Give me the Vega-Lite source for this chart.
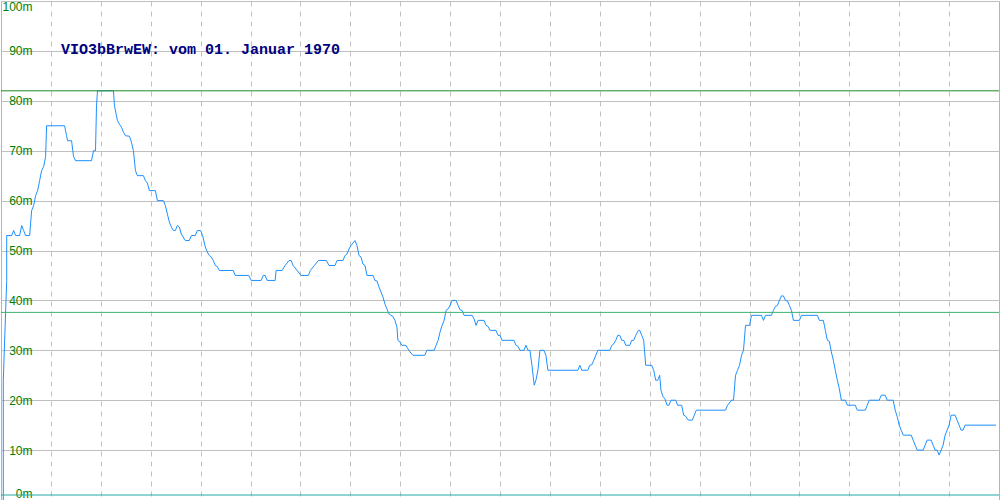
{
  "$schema": "https://vega.github.io/schema/vega-lite/v6.json",
  "width": 1000,
  "height": 500,
  "padding": 0,
  "autosize": {"type": "fit", "contains": "padding"},
  "background": "white",
  "config": {"view": {"stroke": "#b4b4b4", "strokeWidth": 1}},
  "datasets": {
    "series": [
      {"t":0.046,"v":0},{"t":0.046,"v":24},{"t":0.114,"v":44},{"t":0.114,"v":53},{"t":0.214,"v":53},{"t":0.254,"v":54},{"t":0.294,"v":53},{"t":0.374,"v":53},{"t":0.414,"v":55},{"t":0.454,"v":54},{"t":0.494,"v":53},{"t":0.574,"v":53},{"t":0.614,"v":58},{"t":0.654,"v":59},{"t":0.694,"v":61},{"t":0.734,"v":62},{"t":0.774,"v":64},{"t":0.814,"v":66},{"t":0.854,"v":66.8},{"t":0.894,"v":68.8},{"t":0.914,"v":75},{"t":1.274,"v":75},{"t":1.314,"v":73},{"t":1.334,"v":72},{"t":1.414,"v":72},{"t":1.454,"v":68.8},{"t":1.494,"v":68},{"t":1.814,"v":68},{"t":1.854,"v":70},{"t":1.894,"v":70},{"t":1.914,"v":79},{"t":1.934,"v":82},{"t":2.254,"v":82},{"t":2.274,"v":79},{"t":2.314,"v":77},{"t":2.334,"v":76},{"t":2.374,"v":75.3},{"t":2.414,"v":74.7},{"t":2.454,"v":73.7},{"t":2.494,"v":73},{"t":2.574,"v":72.9},{"t":2.614,"v":71.7},{"t":2.654,"v":70},{"t":2.694,"v":66},{"t":2.734,"v":65},{"t":2.854,"v":65},{"t":2.894,"v":64},{"t":2.934,"v":63.5},{"t":2.974,"v":62},{"t":3.094,"v":62},{"t":3.134,"v":60},{"t":3.254,"v":60},{"t":3.294,"v":59},{"t":3.334,"v":57.3},{"t":3.374,"v":55.7},{"t":3.414,"v":54.7},{"t":3.454,"v":54},{"t":3.494,"v":54},{"t":3.534,"v":55},{"t":3.574,"v":54.7},{"t":3.614,"v":53.3},{"t":3.694,"v":52},{"t":3.774,"v":52},{"t":3.814,"v":53},{"t":3.894,"v":53},{"t":3.934,"v":54},{"t":4.0,"v":54},{"t":4.04,"v":53},{"t":4.094,"v":50.7},{"t":4.134,"v":49.7},{"t":4.174,"v":49},{"t":4.214,"v":48.7},{"t":4.254,"v":48},{"t":4.294,"v":47},{"t":4.334,"v":46.8},{"t":4.374,"v":46},{"t":4.654,"v":46},{"t":4.694,"v":45},{"t":4.966,"v":45},{"t":5.014,"v":44},{"t":5.214,"v":44},{"t":5.254,"v":45},{"t":5.294,"v":45},{"t":5.334,"v":44},{"t":5.494,"v":44},{"t":5.514,"v":46},{"t":5.634,"v":46},{"t":5.694,"v":47},{"t":5.774,"v":48},{"t":5.814,"v":48},{"t":5.854,"v":47},{"t":5.934,"v":46},{"t":6.014,"v":45},{"t":6.16,"v":45},{"t":6.2,"v":46},{"t":6.28,"v":47},{"t":6.36,"v":48},{"t":6.52,"v":48},{"t":6.574,"v":47},{"t":6.694,"v":47},{"t":6.734,"v":48},{"t":6.854,"v":48},{"t":6.894,"v":49},{"t":6.934,"v":49.3},{"t":6.974,"v":50.3},{"t":7.014,"v":51},{"t":7.094,"v":52},{"t":7.134,"v":51},{"t":7.174,"v":49},{"t":7.214,"v":48.7},{"t":7.254,"v":47.3},{"t":7.294,"v":47},{"t":7.334,"v":45},{"t":7.454,"v":45},{"t":7.494,"v":44},{"t":7.534,"v":43.9},{"t":7.574,"v":42.7},{"t":7.614,"v":41.7},{"t":7.654,"v":40.7},{"t":7.694,"v":39.3},{"t":7.734,"v":38.3},{"t":7.774,"v":37.3},{"t":7.814,"v":37},{"t":7.854,"v":36.8},{"t":7.894,"v":36},{"t":7.934,"v":34.7},{"t":7.954,"v":32},{"t":7.994,"v":31.7},{"t":8.034,"v":31},{"t":8.114,"v":31},{"t":8.154,"v":30.3},{"t":8.194,"v":29.7},{"t":8.254,"v":29},{"t":8.494,"v":29},{"t":8.534,"v":30},{"t":8.68,"v":30},{"t":8.72,"v":31},{"t":8.76,"v":32},{"t":8.8,"v":33.7},{"t":8.84,"v":35},{"t":8.88,"v":36},{"t":8.92,"v":38},{"t":8.96,"v":38.3},{"t":9.0,"v":39},{"t":9.04,"v":40},{"t":9.12,"v":40},{"t":9.16,"v":39},{"t":9.2,"v":38.1},{"t":9.24,"v":38},{"t":9.28,"v":37},{"t":9.44,"v":37},{"t":9.48,"v":36.3},{"t":9.52,"v":35},{"t":9.56,"v":36},{"t":9.68,"v":36},{"t":9.72,"v":35},{"t":9.76,"v":34.8},{"t":9.8,"v":34},{"t":9.92,"v":34},{"t":9.96,"v":33},{"t":10.0,"v":33},{"t":10.04,"v":32},{"t":10.28,"v":32},{"t":10.32,"v":31},{"t":10.36,"v":30.8},{"t":10.4,"v":30},{"t":10.48,"v":30},{"t":10.52,"v":31},{"t":10.56,"v":30},{"t":10.6,"v":30},{"t":10.64,"v":27},{"t":10.666,"v":24.7},{"t":10.686,"v":23},{"t":10.72,"v":24},{"t":10.76,"v":26},{"t":10.8,"v":30},{"t":10.88,"v":30},{"t":10.92,"v":29},{"t":10.96,"v":26},{"t":11.56,"v":26},{"t":11.6,"v":27},{"t":11.64,"v":26},{"t":11.76,"v":26},{"t":11.8,"v":27},{"t":11.84,"v":27.1},{"t":11.88,"v":28},{"t":11.92,"v":29},{"t":11.96,"v":30},{"t":12.2,"v":30},{"t":12.24,"v":31},{"t":12.28,"v":31.3},{"t":12.32,"v":32},{"t":12.36,"v":33},{"t":12.4,"v":33},{"t":12.44,"v":32},{"t":12.48,"v":32},{"t":12.52,"v":31},{"t":12.6,"v":31},{"t":12.64,"v":32},{"t":12.68,"v":32},{"t":12.72,"v":33},{"t":12.774,"v":34},{"t":12.8,"v":34},{"t":12.84,"v":33},{"t":12.88,"v":32},{"t":12.92,"v":27},{"t":13.04,"v":27},{"t":13.08,"v":26},{"t":13.12,"v":24},{"t":13.16,"v":24},{"t":13.2,"v":25},{"t":13.226,"v":22},{"t":13.266,"v":20.7},{"t":13.306,"v":20.3},{"t":13.346,"v":19},{"t":13.386,"v":19},{"t":13.426,"v":20},{"t":13.52,"v":20},{"t":13.56,"v":19},{"t":13.64,"v":19},{"t":13.68,"v":17},{"t":13.72,"v":16.8},{"t":13.774,"v":16},{"t":13.854,"v":16},{"t":13.894,"v":17},{"t":13.934,"v":18},{"t":14.52,"v":18},{"t":14.56,"v":19},{"t":14.64,"v":20},{"t":14.68,"v":20},{"t":14.72,"v":25},{"t":14.76,"v":26},{"t":14.8,"v":27},{"t":14.84,"v":29},{"t":14.88,"v":30},{"t":14.92,"v":35},{"t":15.0,"v":35},{"t":15.04,"v":37},{"t":15.24,"v":37},{"t":15.28,"v":36},{"t":15.32,"v":37},{"t":15.44,"v":37},{"t":15.48,"v":38},{"t":15.52,"v":38.8},{"t":15.56,"v":39},{"t":15.6,"v":40},{"t":15.64,"v":40.9},{"t":15.68,"v":40.9},{"t":15.72,"v":40},{"t":15.76,"v":39.9},{"t":15.8,"v":39},{"t":15.84,"v":38},{"t":15.88,"v":36},{"t":16.0,"v":36},{"t":16.04,"v":37},{"t":16.36,"v":37},{"t":16.4,"v":36},{"t":16.48,"v":36},{"t":16.52,"v":34},{"t":16.56,"v":32},{"t":16.6,"v":31.8},{"t":16.64,"v":29.7},{"t":16.68,"v":28},{"t":16.72,"v":26},{"t":16.76,"v":24},{"t":16.8,"v":22.3},{"t":16.84,"v":20},{"t":16.92,"v":20},{"t":16.96,"v":19},{"t":17.12,"v":19},{"t":17.16,"v":18},{"t":17.32,"v":18},{"t":17.36,"v":19},{"t":17.4,"v":20},{"t":17.6,"v":20},{"t":17.64,"v":21},{"t":17.72,"v":21},{"t":17.76,"v":20},{"t":17.88,"v":20},{"t":17.92,"v":18},{"t":17.96,"v":16.7},{"t":18.0,"v":15},{"t":18.04,"v":14},{"t":18.08,"v":13},{"t":18.24,"v":13},{"t":18.28,"v":12},{"t":18.32,"v":11},{"t":18.36,"v":10},{"t":18.48,"v":10},{"t":18.52,"v":11},{"t":18.56,"v":12},{"t":18.64,"v":12},{"t":18.68,"v":11},{"t":18.72,"v":10},{"t":18.76,"v":10},{"t":18.8,"v":9},{"t":18.84,"v":10},{"t":18.88,"v":11},{"t":18.92,"v":13},{"t":18.96,"v":14},{"t":19.0,"v":15},{"t":19.04,"v":17},{"t":19.12,"v":17},{"t":19.16,"v":16},{"t":19.2,"v":15},{"t":19.24,"v":14},{"t":19.28,"v":14},{"t":19.32,"v":15},{"t":19.94,"v":15}
    ],
    "limits": [
      {"name": "oben", "level": 82},
      {"name": "mitte", "level": 37.6},
      {"name": "unten", "level": 1}
    ],
    "caption": [
      {"t": 1.2, "v": 90.4, "label": "VIO3bBrwEW: vom 01. Januar 1970"}
    ]
  },
  "layer": [
    {
      "data": {"name": "series"},
      "mark": {"type": "line", "stroke": "#1e90ff", "strokeWidth": 1, "clip": true},
      "encoding": {
        "x": {
          "field": "t", "type": "quantitative",
          "scale": {"domain": [0, 20], "nice": false, "zero": false},
          "axis": {
            "title": null, "labels": false, "ticks": false, "domain": false,
            "values": [1,2,3,4,5,6,7,8,9,10,11,12,13,14,15,16,17,18,19],
            "grid": true, "gridColor": "#c0c0c0", "gridDash": [5, 5], "gridWidth": 1,
            "minExtent": 0, "maxExtent": 0
          }
        },
        "y": {
          "field": "v", "type": "quantitative",
          "scale": {"domain": [0, 100], "nice": false},
          "axis": {
            "title": null, "ticks": false, "tickSize": 0, "domain": false,
            "values": [0,10,20,30,40,50,60,70,80,90,100],
            "labelExpr": "datum.value + 'm'",
            "labelFont": "Liberation Sans", "labelFontSize": 12, "labelColor": "#008000",
            "labelPadding": 0, "offset": -31, "labelFlush": true,
            "grid": true, "gridColor": "#bfbfbf", "gridWidth": 1,
            "minExtent": 0, "maxExtent": 0
          }
        }
      }
    },
    {
      "data": {"name": "limits"},
      "mark": {"type": "rule", "strokeWidth": 1},
      "encoding": {
        "y": {"field": "level", "type": "quantitative"},
        "color": {
          "field": "name", "type": "nominal", "legend": null,
          "scale": {"domain": ["oben", "mitte", "unten"], "range": ["#228b22", "#3cb371", "#20a8a8"]}
        }
      }
    },
    {
      "data": {"name": "caption"},
      "mark": {"type": "text", "font": "Liberation Mono", "fontWeight": "bold", "fontSize": 15, "color": "#000080", "align": "left", "baseline": "middle"},
      "encoding": {
        "x": {"field": "t", "type": "quantitative"},
        "y": {"field": "v", "type": "quantitative"},
        "text": {"field": "label"}
      }
    }
  ]
}
